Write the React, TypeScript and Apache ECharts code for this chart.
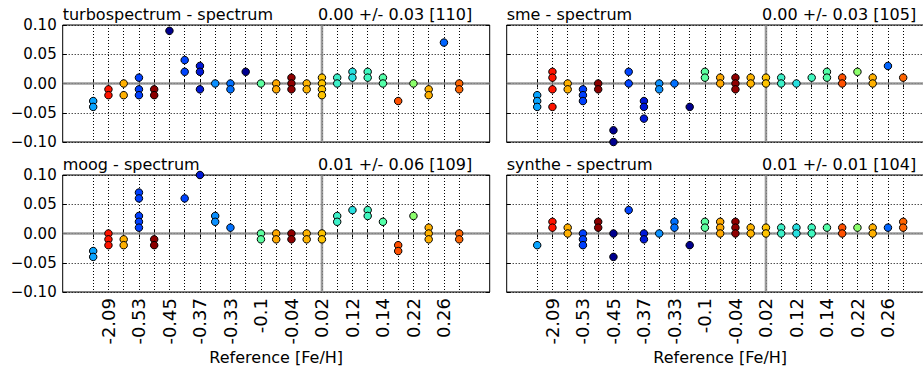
import React, { useEffect, useRef } from "react";
import * as echarts from "echarts";

// Reference [Fe/H] tick labels (shown on every other star)
const tickLabels = ["-2.09", "-0.53", "-0.45", "-0.37", "-0.33", "-0.1", "-0.04", "0.02", "0.12", "0.14", "0.22", "0.26"];

// colour of each star (jet colormap)
const starColors = [
  "#08a4ff", "#ff1400", "#ffb000", "#0040ff", "#8c0000",
  "#00008f", "#0044ff", "#0018d8", "#0a90ff", "#0070ff",
  "#000090", "#5cffa0", "#ffa800", "#900000", "#ffb400",
  "#ffc400", "#3cf0c8", "#28e0e0", "#40f8c0", "#54ffa8",
  "#ff5000", "#8cff6c", "#ffb000", "#0064ff", "#ff6400",
];

const panelTitles = ["turbospectrum - spectrum", "sme - spectrum", "moog - spectrum", "synthe - spectrum"];
const panelStats = ["0.00 +/- 0.03 [110]", "0.00 +/- 0.03 [105]", "0.01 +/- 0.06 [109]", "0.01 +/- 0.01 [104]"];

// differences per star, per code
const turbo = [
  [-0.03, -0.04], [-0.01, -0.02], [0, -0.02], [0.01, -0.01, -0.02], [-0.01, -0.02],
  [0.09], [0.04, 0.02], [0.03, 0.02, -0.01], [0], [0, -0.01],
  [0.02], [0], [0, -0.01], [0.01, 0, -0.01], [0, -0.01],
  [0.01, 0, -0.01, -0.02], [0.01, 0], [0.02, 0.01], [0.02, 0.01], [0.01, 0],
  [-0.03], [0], [-0.01, -0.02], [0.07], [0, -0.01],
];
const sme = [
  [-0.02, -0.03, -0.04], [0.02, 0.01, -0.01, -0.04], [0, -0.01], [-0.01, -0.02, -0.03], [0, -0.01],
  [-0.08, -0.1], [0.02, 0], [-0.03, -0.04, -0.06], [0, -0.01], [0],
  [-0.04], [0.02, 0.01], [0.01, 0], [0.01, 0, -0.01], [0.01, 0],
  [0.01, 0], [0.01, 0], [0], [0.01], [0.02, 0.01],
  [0.01, 0], [0.02], [0.01, 0], [0.03], [0.01],
];
const moog = [
  [-0.03, -0.04], [0, -0.01, -0.02], [-0.01, -0.02], [0.07, 0.06, 0.03, 0.02, 0.01], [-0.01, -0.02],
  [], [0.06], [0.1], [0.03, 0.02], [0.01],
  [], [0, -0.01], [0, -0.01], [0, -0.01], [0, -0.01],
  [0, -0.01], [0.03, 0.02], [0.04], [0.04, 0.03], [0.02],
  [-0.02, -0.03], [0.03], [0.01, 0, -0.01], [], [0, -0.01],
];
const synthe = [
  [-0.02], [0.02, 0.01], [0.01, 0], [0, -0.01, -0.02], [0.02, 0.01],
  [0, -0.04], [0.04], [0, -0.01], [0], [0.02, 0.01],
  [-0.02], [0.02, 0.01], [0.02, 0.01, 0], [0.02, 0.01, 0], [0.01, 0],
  [0.01, 0], [0.01, 0], [0.01, 0], [0.01, 0], [0.01],
  [0.01, 0], [0.01], [0.01, 0], [0.01], [0.02, 0.01],
];
const panels = [turbo, sme, moog, synthe];

const solarStar = 15; // star with the vertical reference line
const pad = 2; // empty slots on each side

const FONT = "'DejaVu Sans', sans-serif";

export default function App() {
  const ref = useRef<HTMLDivElement>(null);

  useEffect(() => {
    if (!ref.current) return;
    const chart = echarts.init(ref.current, null, { renderer: "svg" });

    const nStars = starColors.length;
    const categories: string[] = [];
    for (let i = 0; i < pad; i++) categories.push("padL" + i);
    for (let i = 0; i < nStars; i++) categories.push("star" + i);
    for (let i = 0; i < pad; i++) categories.push("padR" + i);
    const last = categories.length - 1;

    const isStar = (idx: number) => idx >= pad && idx < pad + nStars;
    const isLabeled = (idx: number) => {
      const s = idx - pad;
      return s >= 1 && s % 2 === 1 && (s - 1) / 2 < tickLabels.length;
    };

    const lefts = [62.7, 506.7];
    const tops = [25, 175];
    const W = 427;
    const H = 117;

    const grids: any[] = [];
    const xAxes: any[] = [];
    const yAxes: any[] = [];
    const series: any[] = [];
    const graphics: any[] = [];

    panels.forEach((vals, p) => {
      const col = p % 2;
      const row = Math.floor(p / 2);
      grids.push({
        left: lefts[col], top: tops[row], width: W, height: H,
        show: true, borderColor: "#000", borderWidth: 1, backgroundColor: "transparent",
      });
      xAxes.push({
        type: "category", gridIndex: p, data: categories, boundaryGap: false,
        position: "bottom",
        axisLine: { show: false },
        axisTick: { show: true, inside: true, length: 4, interval: (i: number) => isStar(i), lineStyle: { color: "#000" } },
        axisLabel: {
          show: row === 1, rotate: 90, margin: 6, interval: (i: number) => isLabeled(i),
          formatter: (_v: string, i: number) => (isLabeled(i) ? tickLabels[(i - pad - 1) / 2] : ""),
          fontFamily: FONT, fontSize: 18, color: "#000",
        },
        splitLine: { show: true, interval: (i: number) => isStar(i), lineStyle: { color: "#000", type: [1, 2], width: 1 } },
        name: row === 1 ? "Reference [Fe/H]" : "",
        nameLocation: "middle", nameGap: 57,
        nameTextStyle: { fontFamily: FONT, fontSize: 16, color: "#000" },
      });
      yAxes.push({
        type: "value", gridIndex: p, min: -0.1, max: 0.1, interval: 0.05,
        position: "left",
        axisLine: { show: false },
        axisTick: { show: true, inside: true, length: 4, lineStyle: { color: "#000" } },
        axisLabel: {
          show: col === 0, margin: 6, fontFamily: FONT, fontSize: 15, color: "#000",
          formatter: (v: number) => {
            const s = Math.abs(v).toFixed(2);
            return v < -1e-9 ? "\u2212" + s : s;
          },
        },
        splitLine: { show: true, lineStyle: { color: "#000", type: [1, 2], width: 1 } },
      });
    });
    // mirrored tick axes (top and right)
    panels.forEach((_v, p) => {
      xAxes.push({
        type: "category", gridIndex: p, data: categories, boundaryGap: false, position: "top",
        axisLine: { show: false },
        axisTick: { show: true, inside: true, length: 4, interval: (i: number) => isStar(i), lineStyle: { color: "#000" } },
        axisLabel: { show: false }, splitLine: { show: false },
      });
      yAxes.push({
        type: "value", gridIndex: p, min: -0.1, max: 0.1, interval: 0.05, position: "right",
        axisLine: { show: false },
        axisTick: { show: true, inside: true, length: 4, lineStyle: { color: "#000" } },
        axisLabel: { show: false }, splitLine: { show: false },
      });
    });

    panels.forEach((vals, p) => {
      const col = p % 2;
      const row = Math.floor(p / 2);
      const refLine = { color: "#8a8a8a", width: 2.5, opacity: 0.85 };
      series.push({
        type: "line", xAxisIndex: p, yAxisIndex: p, z: 2, silent: true, symbol: "none",
        lineStyle: refLine, data: [[0, 0], [last, 0]],
      });
      series.push({
        type: "line", xAxisIndex: p, yAxisIndex: p, z: 2, silent: true, symbol: "none",
        lineStyle: refLine, data: [[solarStar + pad, -0.1], [solarStar + pad, 0.1]],
      });
      const pts: any[] = [];
      vals.forEach((list, s) => {
        list.forEach((v) => {
          pts.push({ value: [s + pad, v], itemStyle: { color: starColors[s] } });
        });
      });
      series.push({
        type: "scatter", xAxisIndex: p, yAxisIndex: p, z: 3, clip: false,
        symbol: "circle", symbolSize: 7.5,
        itemStyle: { borderColor: "#000", borderWidth: 1, opacity: 1 },
        data: pts,
      });
      graphics.push({
        type: "text", left: lefts[col], top: tops[row] - 19,
        style: { text: panelTitles[p], fontFamily: FONT, fontSize: 16, fill: "#000" },
      });
      graphics.push({
        type: "text", x: lefts[col] + W - 17.5, y: tops[row] - 19,
        style: { text: panelStats[p], fontFamily: FONT, fontSize: 16, fill: "#000", align: "right", verticalAlign: "top" },
      });
    });

    chart.setOption({
      animation: false,
      backgroundColor: "#fff",
      grid: grids,
      xAxis: xAxes,
      yAxis: yAxes,
      series,
      graphic: graphics,
    });
    return () => chart.dispose();
  }, []);

  return (
    <div style={{ position: "fixed", left: 0, top: 0, width: 923, height: 372, overflow: "hidden", background: "#fff" }}>
      <div ref={ref} style={{ width: 940, height: 372 }} />
    </div>
  );
}
